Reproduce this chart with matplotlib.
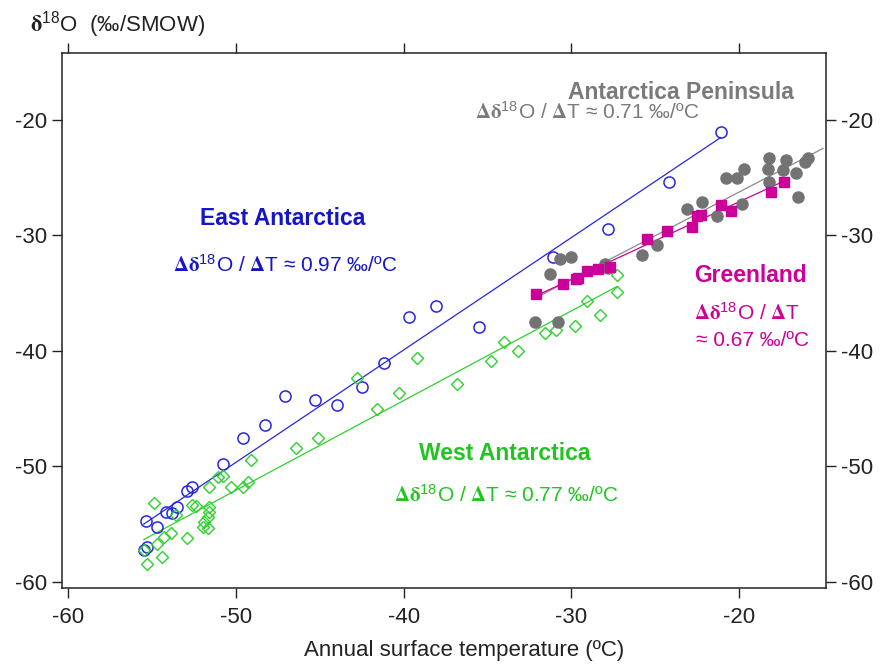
import numpy as np
import matplotlib
matplotlib.use("Agg")
import matplotlib.pyplot as plt

plt.rcParams['font.family'] = ['Liberation Sans', 'DejaVu Sans']
plt.rcParams['mathtext.fontset'] = 'stix'
plt.rcParams['axes.unicode_minus'] = False

# East Antarctica (open circles)
east_t = [-21.1, -24.2, -27.8, -31.1, -35.5, -38.1, -39.7, -41.2, -42.5, -44.0,
          -45.3, -47.1, -48.3, -49.6, -50.8, -52.6, -52.9, -53.5, -53.8, -54.2,
          -55.4, -54.7, -55.5, -55.3]
east_d = [-21.0, -25.4, -29.4, -31.9, -37.9, -36.1, -37.1, -41.0, -43.1, -44.7,
          -44.2, -43.9, -46.4, -47.5, -49.8, -51.8, -52.1, -53.5, -54.0, -53.9,
          -54.7, -55.2, -57.2, -57.0]

# West Antarctica (open diamonds)
west_t = [-27.3, -27.3, -29.1, -28.3, -29.8, -30.9, -31.6, -33.2, -34.0, -34.8,
          -36.8, -39.2, -40.3, -41.6, -42.8, -45.1, -46.4, -49.1, -50.3, -50.8,
          -51.1, -51.6, -49.6, -49.3, -54.9, -52.6, -52.4, -51.6, -51.6, -51.7,
          -51.9, -52.0, -51.7, -53.6, -53.9, -54.3, -52.9, -54.7, -54.4, -55.3,
          -55.5]
west_d = [-33.4, -34.9, -35.7, -36.9, -37.8, -38.2, -38.4, -40.0, -39.2, -40.9,
          -42.9, -40.6, -43.6, -45.0, -42.3, -47.5, -48.4, -49.4, -51.8, -50.8,
          -50.9, -51.8, -51.8, -51.3, -53.2, -53.3, -53.4, -53.5, -53.9, -54.4,
          -54.8, -55.2, -55.3, -54.2, -55.8, -56.1, -56.2, -56.7, -57.8, -58.4,
          -57.2]

# Antarctica Peninsula (filled grey circles)
pen_t = [-32.2, -30.8, -31.3, -30.7, -30.0, -28.0, -27.8, -25.8, -24.9, -23.1,
         -22.2, -21.3, -19.8, -20.8, -20.1, -19.7, -18.2, -18.3, -18.2, -17.2,
         -17.4, -16.6, -16.5, -16.1, -15.9]
pen_d = [-37.5, -37.5, -33.3, -32.0, -31.9, -32.5, -32.8, -31.7, -30.8, -27.7,
         -27.1, -28.3, -27.3, -25.0, -25.0, -24.2, -23.3, -24.2, -25.4, -23.5,
         -24.3, -24.6, -26.7, -23.6, -23.3]
pen_line_end = -15.0

# Greenland (filled squares)
green_t = [-32.1, -30.5, -29.7, -29.6, -29.1, -28.4, -27.7, -25.5, -24.3, -22.8,
           -22.5, -22.3, -21.1, -20.5, -18.1, -17.3]
green_d = [-35.1, -34.2, -33.8, -33.7, -33.1, -32.9, -32.7, -30.3, -29.6, -29.3,
           -28.3, -28.2, -27.4, -27.9, -26.2, -25.4]

x_ticks = [-60, -50, -40, -30, -20]
y_ticks = [-60, -50, -40, -30, -20]

BLUE = '#2626e0'
GREEN = '#2fd12f'
MAGENTA = '#cc0099'
GREY = '#737373'

fig = plt.figure(figsize=(8.8, 6.66), dpi=100)
ax = fig.add_axes([62 / 880, 1 - 588 / 666, (826 - 62) / 880, (588 - 53) / 666])


def fit_line(x, y, x0, x1):
    k, b = np.polyfit(x, y, 1)
    xs = np.array([x0, x1])
    return xs, k * xs + b


xs, ys = fit_line(east_t, east_d, min(east_t), max(east_t))
ax.plot(xs, ys, color=BLUE, lw=0.9, zorder=2)
xs, ys = fit_line(west_t, west_d, min(west_t), max(west_t))
ax.plot(xs, ys, color=GREEN, lw=0.9, zorder=2)
xs, ys = fit_line(pen_t, pen_d, min(pen_t), pen_line_end)
ax.plot(xs, ys, color='#8a8a8a', lw=0.9, zorder=2)
xs, ys = fit_line(green_t, green_d, min(green_t), max(green_t))
ax.plot(xs, ys, color=MAGENTA, lw=0.9, zorder=2)

ax.plot(east_t, east_d, 'o', ms=8, mfc='none', mec=BLUE, mew=1.1, zorder=3)
ax.plot(west_t, west_d, 'D', ms=5.8, mfc='none', mec=GREEN, mew=1.0, zorder=3)
ax.plot(pen_t, pen_d, 'o', ms=8, color=GREY, mec=GREY, zorder=3)
ax.plot(green_t, green_d, 's', ms=7.4, color=MAGENTA, mec=MAGENTA, zorder=4)

ax.set_xlim(-60.38, -14.82)
ax.set_ylim(-60.52, -14.2)
ax.set_xticks(x_ticks)
ax.set_yticks(y_ticks)
ax.tick_params(direction='out', length=7.5, width=1, labelsize=16,
               top=True, right=True, labelright=True, color='#222222',
               labelcolor='#222222')
ax.tick_params(axis='y', pad=3)
ax.tick_params(axis='x', pad=6)
for s in ax.spines.values():
    s.set_linewidth(1.1)
    s.set_color('#222222')

ax.set_xlabel('Annual surface temperature (ºC)', fontsize=16, color='#222222')
ax.xaxis.set_label_coords(0.526, -0.097)

fig.text(30 / 880, 1 - 32 / 666,
         r'$\mathbf{\delta}^{\mathregular{18}}$O  (‰/SMOW)',
         fontsize=16, va='baseline', ha='left', color='#222222')

slope = r'$\mathbf{\Delta\delta}^{\mathregular{18}}$O / $\mathbf{\Delta}$T'
ax.text(-23.5, -17.6, 'Antarctica Peninsula', fontsize=16.5, fontweight='bold',
        color='#7a7a7a', ha='center', va='center')
ax.text(-35.75, -19.3, slope + ' ≈ 0.71 ‰/ºC', fontsize=15, color='#7a7a7a',
        ha='left', va='center')
ax.text(-47.2, -28.5, 'East Antarctica', fontsize=16.5, fontweight='bold',
        color='#1515c8', ha='center', va='center')
ax.text(-53.75, -32.55, slope + ' ≈ 0.97 ‰/ºC', fontsize=15, color='#1515c8',
        ha='left', va='center')
ax.text(-22.7, -33.5, 'Greenland', fontsize=16.5, fontweight='bold',
        color=MAGENTA, ha='left', va='center')
ax.text(-22.7, -36.7, slope, fontsize=15, color=MAGENTA, ha='left', va='center')
ax.text(-22.6, -39.05, '≈ 0.67 ‰/ºC', fontsize=15, color=MAGENTA,
        ha='left', va='center')
ax.text(-33.95, -48.9, 'West Antarctica', fontsize=16.5, fontweight='bold',
        color='#22c422', ha='center', va='center')
ax.text(-40.6, -52.45, slope + ' ≈ 0.77 ‰/ºC', fontsize=15, color='#22c422',
        ha='left', va='center')

fig.savefig('out.png', dpi=100)
